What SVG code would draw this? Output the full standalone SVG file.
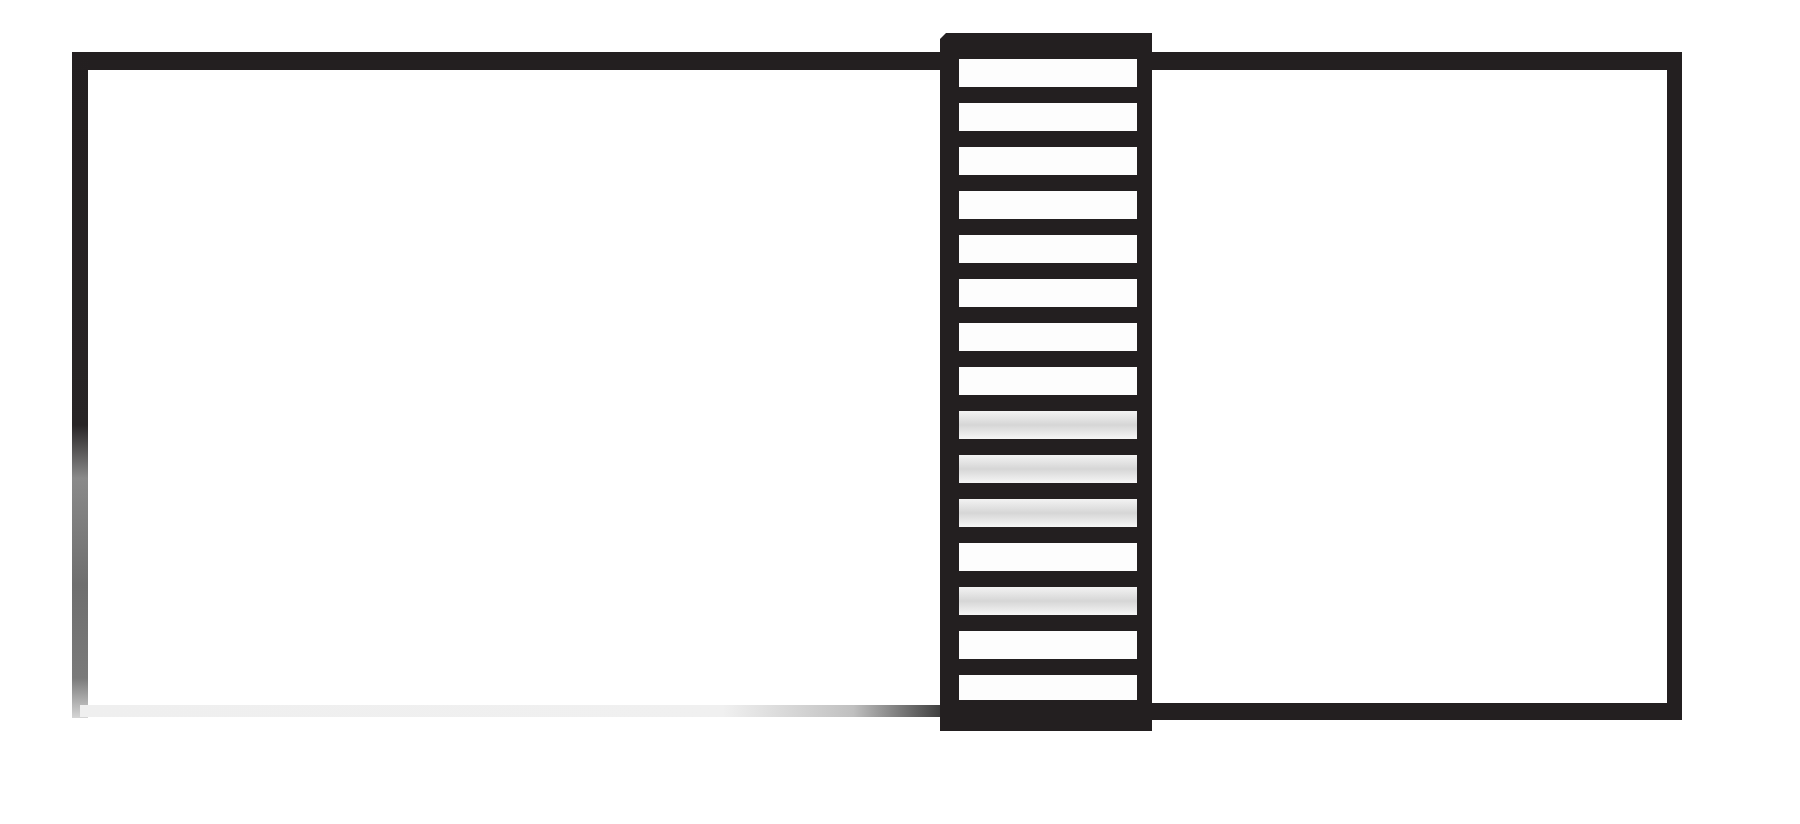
<svg xmlns="http://www.w3.org/2000/svg" width="1800" height="824" viewBox="0 0 1800 824">
  <defs>
    <style>
      .frame { fill: #231f20; }
      .slot { fill: #fdfdfd; }
      .slotg { fill: url(#slotGrad); }
    </style>
    <linearGradient id="leftEdge" x1="0" y1="52" x2="0" y2="718" gradientUnits="userSpaceOnUse">
      <stop offset="0" stop-color="#231f20"/>
      <stop offset="0.56" stop-color="#282526"/>
      <stop offset="0.64" stop-color="#8a8a8a"/>
      <stop offset="0.8" stop-color="#6e6e6e"/>
      <stop offset="0.94" stop-color="#7a7a7a"/>
      <stop offset="1" stop-color="#d5d5d5"/>
    </linearGradient>
    <linearGradient id="bottomEdge" x1="72" y1="0" x2="940" y2="0" gradientUnits="userSpaceOnUse">
      <stop offset="0" stop-color="#efefef"/>
      <stop offset="0.75" stop-color="#f0f0f0"/>
      <stop offset="0.9" stop-color="#c0c0c0"/>
      <stop offset="1" stop-color="#404040"/>
    </linearGradient>
    <linearGradient id="slotGrad" x1="0" y1="0" x2="0" y2="1">
      <stop offset="0" stop-color="#f3f3f3"/>
      <stop offset="0.5" stop-color="#d6d6d6"/>
      <stop offset="1" stop-color="#f6f6f6"/>
    </linearGradient>
  </defs>
  <rect width="1800" height="824" fill="#ffffff"/>

  <g id="left-box">
    <rect class="frame" x="72" y="52" width="870" height="18"/>
    <rect x="72" y="52" width="16" height="666" fill="url(#leftEdge)"/>
    <rect x="80" y="705" width="862" height="12" fill="url(#bottomEdge)"/>
  </g>

  <g id="right-box">
    <rect class="frame" x="1150" y="52" width="532" height="18"/>
    <rect class="frame" x="1667" y="52" width="15" height="668"/>
    <rect class="frame" x="1150" y="703" width="532" height="17"/>
  </g>

  <g id="ladder">
    <path class="frame" d="M946 33 H1152 V731 H940 V39 Z"/>
    <rect class="slot" x="959" y="59" width="178" height="28"/>
    <rect class="slot" x="959" y="103" width="178" height="28"/>
    <rect class="slot" x="959" y="147" width="178" height="28"/>
    <rect class="slot" x="959" y="191" width="178" height="28"/>
    <rect class="slot" x="959" y="235" width="178" height="28"/>
    <rect class="slot" x="959" y="279" width="178" height="28"/>
    <rect class="slot" x="959" y="323" width="178" height="28"/>
    <rect class="slot" x="959" y="367" width="178" height="28"/>
    <rect class="slotg" x="959" y="411" width="178" height="28"/>
    <rect class="slotg" x="959" y="455" width="178" height="28"/>
    <rect class="slotg" x="959" y="499" width="178" height="28"/>
    <rect class="slot" x="959" y="543" width="178" height="28"/>
    <rect class="slotg" x="959" y="587" width="178" height="28"/>
    <rect class="slot" x="959" y="631" width="178" height="28"/>
    <rect class="slot" x="959" y="675" width="178" height="25"/>
  </g>
</svg>
